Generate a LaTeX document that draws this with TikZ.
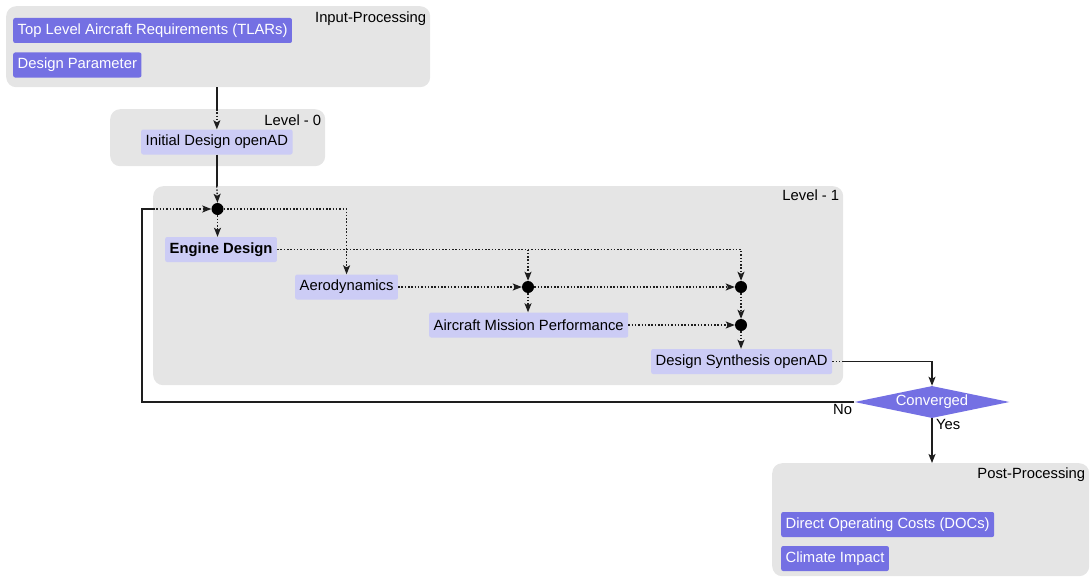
\documentclass[tikz,border=0pt]{standalone}
\usepackage{fontspec}
\setmainfont{Liberation Sans}
\usepackage{xcolor}
\usetikzlibrary{arrows.meta, positioning, shapes.geometric, calc}

\definecolor{boxgray}{HTML}{E5E5E5}
\definecolor{darkpurple}{HTML}{7470E3}
\definecolor{lightpurple}{HTML}{CCCCF5}
\definecolor{linegray}{HTML}{1E1E1E}

\begin{document}
\begin{tikzpicture}[
    x=1pt, y=-1pt,
    every node/.style={font=\fontsize{14.8}{17}\selectfont},
    % --- Styles ---
    group box/.style={fill=boxgray, rounded corners=10pt, anchor=north west, inner sep=0pt},
    group label/.style={anchor=north east, inner sep=2pt},
    input node/.style={fill=darkpurple, text=white, rounded corners=2pt, minimum height=25pt, inner xsep=4.5pt, anchor=west},
    task node/.style={fill=lightpurple, text=black, rounded corners=2pt, minimum height=25pt, inner xsep=4.5pt, anchor=west},
    junction/.style={circle, fill=black, inner sep=0pt, minimum size=12pt},
    decision/.style={diamond, fill=darkpurple, text=white, inner sep=0pt, aspect=4.8, minimum width=155pt, minimum height=32pt},
    solid link/.style={draw=linegray, line width=1.4pt},
    dotted link/.style={draw=linegray, line width=1.4pt, dash pattern=on 1.5pt off 1.8pt},
    tip/.style={-{Stealth[length=9pt, width=7pt, inset=2pt]}}
]
    \useasboundingbox (0,0) rectangle (1091,578);

    %% --- GROUPS ---
    \node[group box, minimum width=424pt, minimum height=81pt] (inbox) at (6,6) {};
    \node[group label] (inlabel) at ([xshift=-2pt, yshift=-4pt]inbox.north east) {Input-Processing};

    \node[group box, minimum width=215pt, minimum height=57pt] (l0box) at (110,109) {};
    \node[group label] (l0label) at ([xshift=-2pt, yshift=-4pt]l0box.north east) {Level - 0};

    \node[group box, minimum width=690pt, minimum height=199pt] (l1box) at (153,186) {};
    \node[group label] (l1label) at ([xshift=-2pt, yshift=-2pt]l1box.north east) {Level - 1};

    \node[group box, minimum width=317pt, minimum height=113pt] (postbox) at (772,463) {};
    \node[group label] (postlabel) at ([xshift=-2pt, yshift=-3pt]postbox.north east) {Post-Processing};

    %% --- TASKS ---
    \node[input node] (tlars) at (13,30.5) {Top Level Aircraft Requirements (TLARs)};
    \node[input node] (param) at (13,65) {Design Parameter};

    \node[task node] (init) at (141,142) {Initial Design openAD};

    \node[task node, font=\fontsize{14.8}{17}\selectfont\bfseries] (engine) at (165,249.5) {Engine Design};
    \node[task node] (aero) at (295,287) {Aerodynamics};
    \node[task node] (amp) at (429,325) {Aircraft Mission Performance};
    \node[task node] (synth) at (651,361.5) {Design Synthesis openAD};

    \node[input node] (doc) at (781,524.5) {Direct Operating Costs (DOCs)};
    \node[input node] (climate) at (781,558.5) {Climate Impact};

    \node[decision] (conv) at (932,402) {Converged};

    % Junctions
    \node[junction] (j0) at (217.5,209) {};
    \node[junction] (j1) at (528,287) {};
    \node[junction] (j2) at (741,287) {};
    \node[junction] (j3) at (741,325) {};

    %% --- CONNECTORS ---
    % solid outside a group, dotted inside
    \draw[solid link] (init.north |- inbox.south) -- (init.north |- l0box.north);
    \draw[dotted link, tip] (init.north |- l0box.north) -- (init.north);

    \draw[solid link] (init.south) -- (init.south |- l1box.north);
    \draw[dotted link, tip] (init.south |- l1box.north) -- (j0.north);

    \draw[dotted link, tip] (j0.south) -- (j0 |- engine.north);
    \draw[dotted link, tip] (j0.east) -| (aero.north);

    \draw[dotted link, tip] (engine.east) -| (j2.north);
    \draw[dotted link, tip] (engine.east -| j1) -- (j1.north);

    \draw[dotted link, tip] (aero.east) -- (j1.west);
    \draw[dotted link, tip] (j1.east) -- (j2.west);
    \draw[dotted link, tip] (j1.south) -- (j1 |- amp.north);

    \draw[dotted link, tip] (j2.south) -- (j3.north);
    \draw[dotted link, tip] (amp.east) -- (j3.west);
    \draw[dotted link, tip] (j3.south) -- (j3 |- synth.north);

    \draw[dotted link] (synth.east) -- (synth.east -| l1box.east);
    \draw[solid link, tip] (synth.east -| l1box.east) -| (conv.north);

    % Yes branch
    \draw[solid link, tip] (conv.south) -- (conv.south |- postbox.north);
    \node[anchor=north west, inner sep=1pt] (yes) at ([xshift=3pt]conv.south) {Yes};

    % No branch (loop back)
    \coordinate (back) at (142,209);
    \draw[solid link] (conv.west) -| (back) -- (l1box.west |- j0);
    \draw[dotted link, tip] (l1box.west |- j0) -- (j0.west);
    \node[anchor=north east, inner sep=1pt] (no) at ([xshift=-1pt, yshift=-1pt]conv.west) {No};
\end{tikzpicture}
\end{document}
